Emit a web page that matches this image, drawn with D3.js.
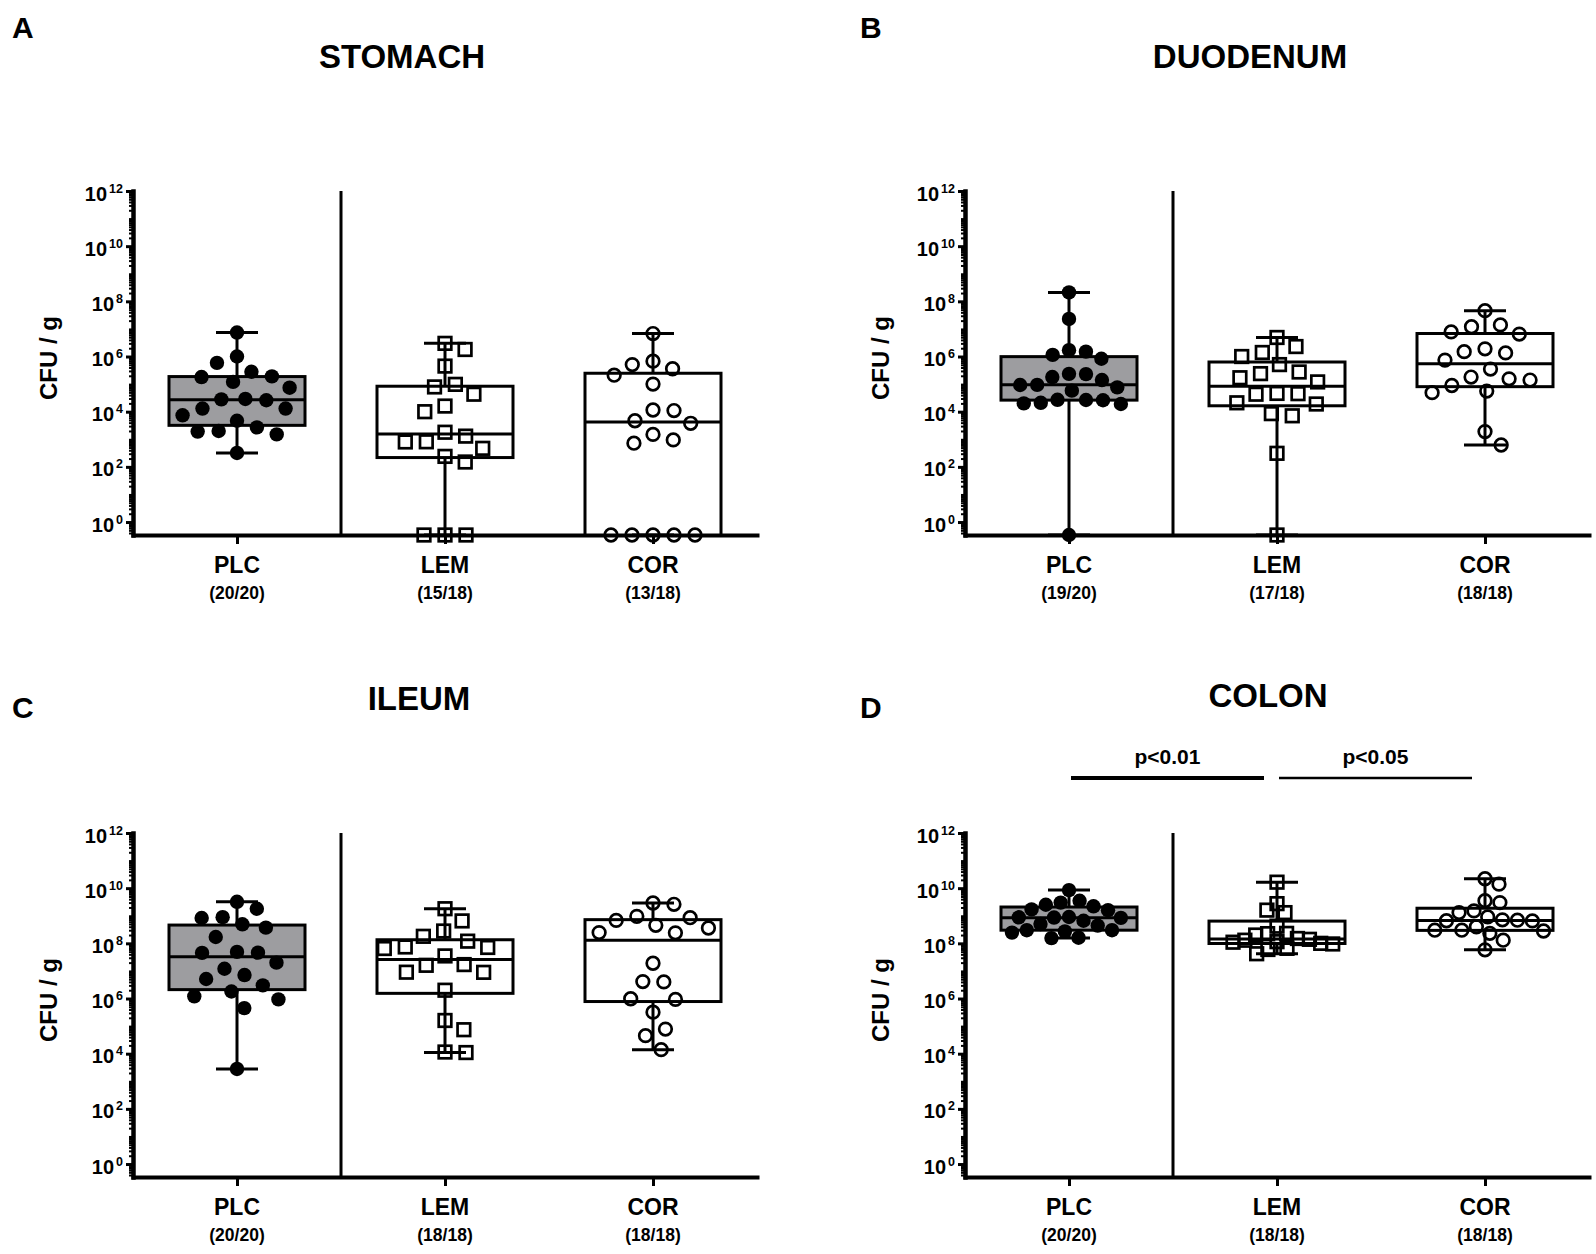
<!DOCTYPE html>
<html>
<head>
<meta charset="utf-8">
<script src="https://cdn.jsdelivr.net/npm/d3@7"></script>
<style>
  body { margin: 0; background: #fff; }
  svg text { font-family: "Liberation Sans", Arial, sans-serif; font-weight: bold; fill: #000; }
</style>
</head>
<body>
<svg id="fig" width="1596" height="1254"></svg>
<script>
// groups and panel labels
const groups = ["PLC", "LEM", "COR"];
const panelLetters = ["A", "B", "C", "D"];
const panelTitles = ["STOMACH", "DUODENUM", "ILEUM", "COLON"];
const tickExps = [0, 2, 4, 6, 8, 10, 12];

// CFU / g per animal (0 = below detection, drawn on the axis)
const stomachPLC = [7.4e6, 1.0e6, 5.9e5, 2.8e5, 1.9e5, 1.8e5, 1.2e5, 7.4e4, 2.9e4, 2.8e4, 2.6e4, 1.3e4, 1.3e4, 7.4e3, 4.7e3, 2.7e3, 2.0e3, 1.9e3, 1.5e3, 3.2e2];
const stomachLEM = [3.0e6, 1.8e6, 4.5e5, 9.8e4, 7.9e4, 4.3e4, 1.6e4, 1.0e4, 1.8e3, 1.3e3, 8.1e2, 8.0e2, 4.7e2, 2.4e2, 1.5e2, 0, 0, 0];
const stomachCOR = [6.8e6, 6.8e5, 5.1e5, 3.6e5, 2.1e5, 1.0e5, 1.1e4, 1.15e4, 4.7e3, 3.8e3, 1.5e3, 9.5e2, 7.2e2, 0, 0, 0, 0, 0];

const duodenumPLC = [2.1e8, 2.3e7, 1.7e6, 1.5e6, 1.15e6, 8.3e5, 2.3e5, 2.35e5, 1.8e5, 1.4e5, 9.3e4, 9.4e4, 7.6e4, 5.8e4, 2.6e4, 2.65e4, 2.7e4, 2.1e4, 2.0e4, 1.9e4, 0];
const duodenumLEM = [4.9e6, 2.3e6, 1.4e6, 1.0e6, 5.1e5, 2.75e5, 2.4e5, 1.7e5, 1.2e5, 4.6e4, 4.5e4, 4.3e4, 2.1e4, 1.9e4, 8.5e3, 7.1e3, 3.1e2, 0];
const duodenumCOR = [4.6e7, 1.4e7, 1.2e7, 7.8e6, 6.5e6, 1.9e6, 1.5e6, 1.35e6, 7.4e5, 3.5e5, 1.8e5, 1.55e5, 1.4e5, 8.9e4, 5.6e4, 4.9e4, 1.9e3, 6.2e2];

const ileumPLC = [3.2e9, 1.8e9, 8.9e8, 8.3e8, 4.9e8, 3.7e8, 1.7e8, 4.9e7, 4.6e7, 4.5e7, 2.0e7, 1.2e7, 7.1e6, 5.1e6, 3.0e6, 1.8e6, 1.2e6, 9.3e5, 4.5e5, 2.8e3];
const ileumLEM = [1.8e9, 6.5e8, 2.8e8, 1.8e8, 1.2e8, 7.4e7, 7.1e7, 6.5e7, 3.5e7, 1.7e7, 1.6e7, 8.9e6, 9.0e6, 2.0e6, 1.6e5, 7.4e4, 1.15e4, 1.1e4];
const ileumCOR = [2.9e9, 2.6e9, 9.5e8, 8.5e8, 6.8e8, 4.5e8, 3.6e8, 2.45e8, 2.4e8, 1.9e7, 4.1e6, 4.0e6, 9.8e5, 9.3e5, 3.2e5, 7.8e4, 4.5e4, 1.4e4];

const colonPLC = [8.5e9, 3.5e9, 3.0e9, 2.5e9, 2.2e9, 1.7e9, 1.6e9, 9.0e8, 8.8e8, 8.6e8, 8.4e8, 6.6e8, 5.0e8, 4.4e8, 3.0e8, 3.0e8, 2.7e8, 2.45e8, 1.6e8, 1.55e8];
const colonLEM = [1.65e10, 2.75e9, 1.6e9, 1.3e9, 4.2e8, 2.3e8, 2.25e8, 2.0e8, 1.5e8, 1.4e8, 1.3e8, 1.15e8, 1.1e8, 1.0e8, 9.5e7, 6.6e7, 6.0e7, 4.2e7];
const colonCOR = [2.2e10, 1.4e10, 3.5e9, 3.0e9, 1.5e9, 1.3e9, 9.1e8, 7.1e8, 6.9e8, 6.6e8, 6.5e8, 4.0e8, 3.0e8, 3.0e8, 2.8e8, 2.3e8, 1.3e8, 5.8e7];

// positive / total counts under each group
const stomachN = ["(20/20)", "(15/18)", "(13/18)"];
const duodenumN = ["(19/20)", "(17/18)", "(18/18)"];
const ileumN = ["(20/20)", "(18/18)", "(18/18)"];
const colonN = ["(20/20)", "(18/18)", "(18/18)"];

// significance bars (colon only)
const colonFrom = ["PLC", "LEM"];
const colonTo = ["LEM", "COR"];
const colonP = ["p<0.01", "p<0.05"];

const panels = [
  { series: [stomachPLC, stomachLEM, stomachCOR], counts: stomachN, sig: [] },
  { series: [duodenumPLC, duodenumLEM, duodenumCOR], counts: duodenumN, sig: [] },
  { series: [ileumPLC, ileumLEM, ileumCOR], counts: ileumN, sig: [] },
  { series: [colonPLC, colonLEM, colonCOR], counts: colonN,
    sig: colonP.map((p, i) => ({ from: colonFrom[i], to: colonTo[i], label: p })) }
];

// page layout
const layout = [
  { x0: 133, top: 191, lx: 12,  ly: 38,  tx: 402,  ty: 68 },
  { x0: 965, top: 191, lx: 860, ly: 38,  tx: 1250, ty: 68 },
  { x0: 133, top: 833, lx: 12,  ly: 718, tx: 419,  ty: 710 },
  { x0: 965, top: 833, lx: 860, ly: 718, tx: 1268, ty: 707 }
];
const W = 624, H = 344, yMinExp = -0.47;
const boxHalf = 68, capHalf = 21;
const boxFill = ["#9d9da0", "#fff", "#fff"];
const markerKind = ["dot", "square", "ring"];
const sigStroke = [4, 2.5];

// Prism style quartiles (n+1 method)
function quart(sorted, p) {
  const n = sorted.length, h = p * (n + 1);
  if (h <= 1) return sorted[0];
  if (h >= n) return sorted[n - 1];
  const lo = Math.floor(h);
  return sorted[lo - 1] + (h - lo) * (sorted[lo] - sorted[lo - 1]);
}

// simple beeswarm: smallest horizontal offset that doesn't collide
function place(ys, d) {
  const order = d3.range(ys.length).sort((a, b) => ys[a] - ys[b] || a - b);
  const placed = [], off = [];
  let flip = 1;
  for (const i of order) {
    const y = ys[i];
    const near = placed.filter(p => Math.abs(p.y - y) < d);
    const cands = [0];
    near.forEach(p => {
      const dx = Math.sqrt(d * d - (p.y - y) ** 2);
      cands.push(p.x - dx, p.x + dx);
    });
    const ok = c => near.every(p => (p.x - c) ** 2 + (p.y - y) ** 2 >= d * d - 1e-6);
    cands.sort((a, b) => Math.abs(a) - Math.abs(b) || flip * (a - b));
    const c = cands.find(ok);
    off[i] = c;
    placed.push({ x: c, y });
    flip = -flip;
  }
  return off;
}
function swarm(ys, maxOff) {
  for (let d = 21; d >= 10; d--) {
    const off = place(ys, d);
    if (d3.max(off, Math.abs) <= maxOff) return off;
  }
  return place(ys, 10).map(o => Math.max(-maxOff, Math.min(maxOff, o)));
}

const svg = d3.select("#fig");

panels.forEach((p, pi) => {
  const L = layout[pi];

  svg.append("text").attr("x", L.lx).attr("y", L.ly).attr("font-size", 30).text(panelLetters[pi]);
  svg.append("text").attr("x", L.tx).attr("y", L.ty).attr("text-anchor", "middle")
    .attr("font-size", 33).text(panelTitles[pi]);

  const g = svg.append("g").attr("transform", `translate(${L.x0},${L.top})`);
  const x = d3.scalePoint().domain(groups).range([0, W]).padding(0.5);
  const y = d3.scaleLog().domain([10 ** yMinExp, 1e12]).range([H, 0]);
  const yv = v => y(Math.max(v, 10 ** yMinExp));

  // minor log ticks
  const minors = [];
  for (let k = -1; k < 12; k++) {
    for (let m = 2; m <= 9; m++) {
      const v = m * 10 ** k;
      if (v >= 10 ** yMinExp) minors.push(v);
    }
    if (k >= 0 && k % 2 === 1) minors.push(10 ** k);
  }
  const minorAx = g.append("g").call(d3.axisLeft(y).tickValues(minors).tickSize(4).tickFormat(""));
  minorAx.select(".domain").remove();
  minorAx.selectAll(".tick line").attr("stroke-width", 2);

  const yAx = g.append("g").call(
    d3.axisLeft(y).tickValues(tickExps.map(e => 10 ** e)).tickSize(7).tickSizeOuter(0).tickFormat(""));
  yAx.select(".domain").attr("stroke-width", 4.5).attr("stroke-linecap", "square");
  yAx.selectAll(".tick line").attr("stroke-width", 3);
  yAx.selectAll(".tick text").each(function (d) {
    const t = d3.select(this).attr("x", -10).attr("dy", null).attr("y", 9)
      .attr("font-size", 20).attr("font-family", null);
    t.append("tspan").text("10");
    t.append("tspan").attr("dx", 2).attr("dy", -8).attr("font-size", 12.5).text(Math.round(Math.log10(d)));
  });

  const xAx = g.append("g").attr("transform", `translate(0,${H})`)
    .call(d3.axisBottom(x).tickSize(9).tickSizeOuter(0).tickFormat(""));
  xAx.select(".domain").attr("stroke-width", 4).attr("stroke-linecap", "square");
  xAx.selectAll(".tick line").attr("stroke-width", 3);

  groups.forEach((gr, i) => {
    g.append("text").attr("x", x(gr)).attr("y", H + 38).attr("text-anchor", "middle")
      .attr("font-size", 23).text(gr);
    g.append("text").attr("x", x(gr)).attr("y", H + 64).attr("text-anchor", "middle")
      .attr("font-size", 17.5).text(p.counts[i]);
  });

  g.append("text")
    .attr("transform", `translate(${-76},${H / 2 - 5}) rotate(-90)`)
    .attr("text-anchor", "middle").attr("font-size", 24).text("CFU / g");

  // divider between placebo and treatments
  const xd = (x(groups[0]) + x(groups[1])) / 2;
  g.append("line").attr("x1", xd).attr("x2", xd).attr("y1", 0).attr("y2", H)
    .attr("stroke", "#000").attr("stroke-width", 3);

  p.series.forEach((vals, i) => {
    const cx = x(groups[i]);
    const s = vals.slice().sort(d3.ascending);
    const q1 = quart(s, 0.25), med = quart(s, 0.5), q3 = quart(s, 0.75);
    const lo = s[0], hi = s[s.length - 1];
    const bg = g.append("g").attr("stroke", "#000").attr("stroke-width", 3);

    bg.append("line").attr("x1", cx).attr("x2", cx).attr("y1", yv(hi)).attr("y2", yv(q3));
    bg.append("line").attr("x1", cx).attr("x2", cx).attr("y1", yv(q1)).attr("y2", yv(lo));
    bg.append("rect").attr("x", cx - boxHalf).attr("width", boxHalf * 2)
      .attr("y", yv(q3)).attr("height", yv(q1) - yv(q3)).attr("fill", boxFill[i]);
    bg.append("line").attr("x1", cx - boxHalf).attr("x2", cx + boxHalf).attr("y1", yv(med)).attr("y2", yv(med));
    [lo, hi].forEach(v => bg.append("line").attr("x1", cx - capHalf).attr("x2", cx + capHalf)
      .attr("y1", yv(v)).attr("y2", yv(v)));

    const ys = vals.map(yv);
    const offs = swarm(ys, boxHalf - 7);
    const mg = g.append("g");
    vals.forEach((v, j) => {
      const px = cx + offs[j], py = ys[j];
      if (markerKind[i] === "dot") {
        mg.append("circle").attr("cx", px).attr("cy", py).attr("r", 7.2).attr("fill", "#000");
      } else if (markerKind[i] === "square") {
        mg.append("rect").attr("x", px - 6.3).attr("y", py - 6.3).attr("width", 12.6).attr("height", 12.6)
          .attr("fill", "none").attr("stroke", "#000").attr("stroke-width", 2.7);
      } else {
        mg.append("circle").attr("cx", px).attr("cy", py).attr("r", 6.3)
          .attr("fill", "none").attr("stroke", "#000").attr("stroke-width", 2.7);
      }
    });
  });

  p.sig.forEach((sg, k) => {
    const xa = x(sg.from) + 2, xb = x(sg.to) - 13;
    g.append("line").attr("x1", xa).attr("x2", xb).attr("y1", -55).attr("y2", -55)
      .attr("stroke", "#000").attr("stroke-width", sigStroke[k]);
    g.append("text").attr("x", (xa + xb) / 2).attr("y", -69).attr("text-anchor", "middle")
      .attr("font-size", 21).text(sg.label);
  });
});
</script>
</body>
</html>
